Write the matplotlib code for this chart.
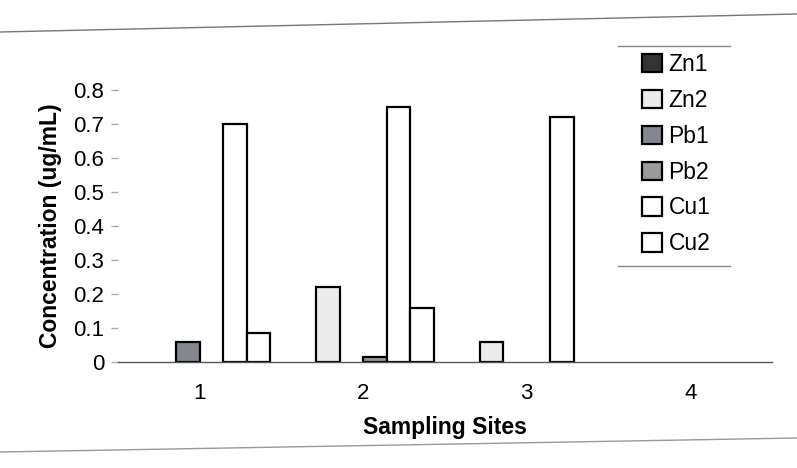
import numpy as np
import matplotlib
matplotlib.use("Agg")
from matplotlib import pyplot as plt
from matplotlib.lines import Line2D

plt.rcParams['font.family'] = ['Liberation Sans', 'DejaVu Sans']

# Metal concentrations at each sampling site (ug/mL)
sites = ['1', '2', '3', '4']
zn1 = [0.0, 0.0, 0.0, 0.0]
zn2 = [0.0, 0.22, 0.06, 0.0]
pb1 = [0.06, 0.0, 0.0, 0.0]
pb2 = [0.0, 0.015, 0.0, 0.0]
cu1 = [0.70, 0.75, 0.72, 0.0]
cu2 = [0.085, 0.16, 0.0, 0.0]

series = ['Zn1', 'Zn2', 'Pb1', 'Pb2', 'Cu1', 'Cu2']
values = [zn1, zn2, pb1, pb2, cu1, cu2]
fills = ['#333333', '#ececec', '#85878f', '#9a9a9a', 'white', 'white']

fig = plt.figure(figsize=(7.97, 4.68), dpi=100)
ax = fig.add_axes([118 / 797, 106 / 468, 654 / 797, 272 / 468])

x = np.arange(len(sites))
w = 0.144
for i, (name, vals, fc) in enumerate(zip(series, values, fills)):
    v = np.array(vals, dtype=float)
    v[v == 0] = np.nan  # empty slots draw nothing
    ax.bar(x + (i - 2.5) * w, v, w, color=fc, edgecolor='black',
           linewidth=1.6, label=name)

ax.set_xlim(-0.5, len(sites) - 0.5)
ax.set_ylim(0, 0.8)
ax.set_yticks(np.arange(0, 0.81, 0.1))
ax.set_yticklabels(['0'] + ['%.1f' % v for v in np.arange(0.1, 0.81, 0.1)])
ax.set_xticks(x)
ax.set_xticklabels(sites)

for s in ['top', 'right', 'left']:
    ax.spines[s].set_visible(False)
ax.spines['bottom'].set_color('#555555')
ax.spines['bottom'].set_linewidth(1.0)

ax.tick_params(axis='y', length=5, width=1, color='#aaaaaa', labelsize=16, pad=5)
ax.tick_params(axis='x', length=0, labelsize=16, pad=15)

ax.set_ylabel('Concentration (ug/mL)', fontsize=16.5, fontweight='bold', labelpad=8)
ax.set_xlabel('Sampling Sites', fontsize=16.5, fontweight='bold', labelpad=9)

leg = fig.legend(loc='upper left', bbox_to_anchor=(633 / 797, 1 - 44 / 468),
                 frameon=False, fontsize=16.5, handlelength=0.85, handleheight=0.85,
                 handletextpad=0.3, labelspacing=0.56, borderaxespad=0)

# thin rules above and below the legend, and the page rules
fig.add_artist(Line2D([618 / 797, 730 / 797], [1 - 46 / 468, 1 - 46 / 468],
                      color='#888888', lw=1))
fig.add_artist(Line2D([618 / 797, 730 / 797], [1 - 266 / 468, 1 - 266 / 468],
                      color='#888888', lw=1))
fig.add_artist(Line2D([0, 1], [1 - 32 / 468, 1 - 14 / 468], color='#777777', lw=1))
fig.add_artist(Line2D([0, 1], [1 - 452 / 468, 1 - 438 / 468], color='#999999', lw=1))

fig.savefig('out.png', dpi=100)
